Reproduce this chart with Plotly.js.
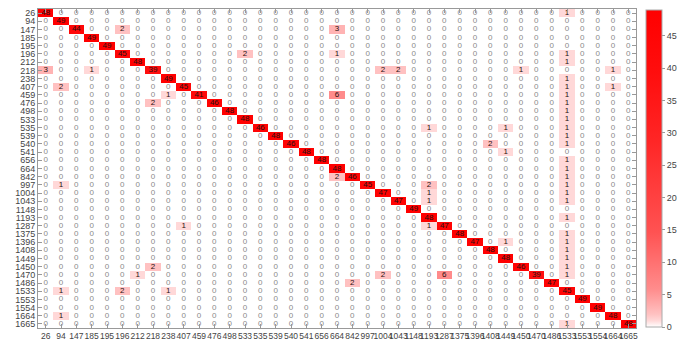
<!DOCTYPE html>
<html>
<head>
<meta charset="utf-8">
<script src="https://cdn.plot.ly/plotly-3.0.1.min.js"></script>
<style>html,body{margin:0;padding:0;background:#fff;}#chart{width:681px;height:339px;}</style>
</head>
<body>
<div id="chart"></div>
<script>
// Class labels (same for rows = true, columns = predicted)
const categories = ['26','94','147','185','195','196','212','218','238','407','459','476','498','533','535','539','540','541','656','664','842','997','1004','1043','1148','1193','1287','1375','1396','1408','1449','1450','1470','1486','1533','1553','1554','1664','1665'];

// Diagonal counts, in category order
const diagonal = [48,49,44,49,49,45,48,39,49,45,41,46,48,48,46,48,46,48,48,48,46,45,47,47,49,48,47,48,47,48,48,46,39,47,45,49,49,48,48];

// Off-diagonal non-zero counts: row label, column label, count
const offRows = ['26','147','147','196','196','196','212','218','218','218','218','218','218','238','407','407','407','459','459','459','476','476','498','533','535','535','535','539','540','540','541','656','664','842','842','997','997','997','1004','1004','1043','1043','1193','1287','1287','1375','1396','1396','1408','1449','1450','1450','1470','1470','1470','1470','1486','1533','1533','1533','1664','1665'];
const offCols = ['1533','196','664','533','664','1533','1533','26','185','1004','1043','1450','1664','1533','94','1533','1664','238','664','1533','218','1533','1533','1533','1193','1449','1533','1533','1408','1533','1449','1533','1533','664','1533','94','1193','1533','1193','1533','1193','1533','1533','407','1193','1533','1449','1533','1533','1533','218','1533','212','1004','1287','1533','842','94','196','238','94','1533'];
const offVals = [1,2,3,2,1,1,1,3,1,2,2,1,1,1,2,1,1,1,6,1,2,1,1,1,1,1,1,1,2,1,1,1,1,2,1,1,2,1,1,1,1,1,1,1,1,1,1,1,1,1,2,1,1,2,6,1,2,1,2,1,1,1];

// Build matrix
const n = categories.length;
const z = [];
for (let i = 0; i < n; i++) { const r = []; for (let j = 0; j < n; j++) r.push(i === j ? diagonal[i] : 0); z.push(r); }
for (let k = 0; k < offVals.length; k++) {
  z[categories.indexOf(offRows[k])][categories.indexOf(offCols[k])] = offVals[k];
}

// text trace
const tx = [], ty = [], tt = [], tc = [];
for (let i = 0; i < n; i++) for (let j = 0; j < n; j++) {
  tx.push(categories[j]); ty.push(categories[i]); tt.push(String(z[i][j]));
  tc.push(z[i][j] === 0 ? '#8a8a8a' : '#2a1010');
}

const font = 'Liberation Sans, Arial, sans-serif';
const heat = {
  type: 'heatmap', x: categories, y: categories, z: z,
  zmin: 0, zmax: 49,
  colorscale: [[0,'#ffffff'],[0.02,'#ffd8d8'],[0.04,'#ffc2c2'],[0.065,'#ffb0b0'],[0.12,'#ff8c8c'],[0.3,'#ff5252'],[0.6,'#ff2424'],[0.8,'#ff0e0e'],[1,'#ff0000']],
  hoverinfo: 'skip',
  colorbar: {
    x: 1.0167, xanchor: 'left', xpad: 0, y: 0.5, yanchor: 'middle', ypad: 0,
    len: 0.995, thickness: 16, outlinecolor: '#aaaaaa', outlinewidth: 1,
    tickvals: [0,5,10,15,20,25,30,35,40,45], ticks: 'outside', ticklen: 3, tickcolor: '#999999',
    tickfont: {family: font, size: 9, color: '#444444'}
  }
};
const labels = {
  type: 'scatter', mode: 'text', x: tx, y: ty, text: tt,
  textfont: {family: font, size: 8, color: tc},
  hoverinfo: 'skip', showlegend: false
};

const axisCommon = {
  type: 'category', categoryorder: 'array', categoryarray: categories,
  tickmode: 'array', tickvals: categories, ticktext: categories,
  showgrid: false, zeroline: false, showline: true, linecolor: '#999999', linewidth: 1,
  mirror: 'ticks', ticks: 'inside', ticklen: 4, tickcolor: '#999999',
  tickfont: {family: font, size: 9, color: '#444444'}
};

const layout = {
  width: 681, height: 339,
  margin: {l: 38, r: 45, t: 9, b: 11, pad: 0, autoexpand: false},
  paper_bgcolor: '#ffffff', plot_bgcolor: '#ffffff',
  showlegend: false,
  xaxis: Object.assign({}, axisCommon, {tickangle: 0, range: [-0.5, n - 0.5], autorange: false, automargin: false,
    tickfont: {family: font, size: 8.5, color: '#444444'}}),
  yaxis: Object.assign({}, axisCommon, {range: [n - 0.5, -0.5], autorange: false, automargin: false})
};

Plotly.newPlot('chart', [heat, labels], layout, {staticPlot: true, displayModeBar: false});
</script>
</body>
</html>
